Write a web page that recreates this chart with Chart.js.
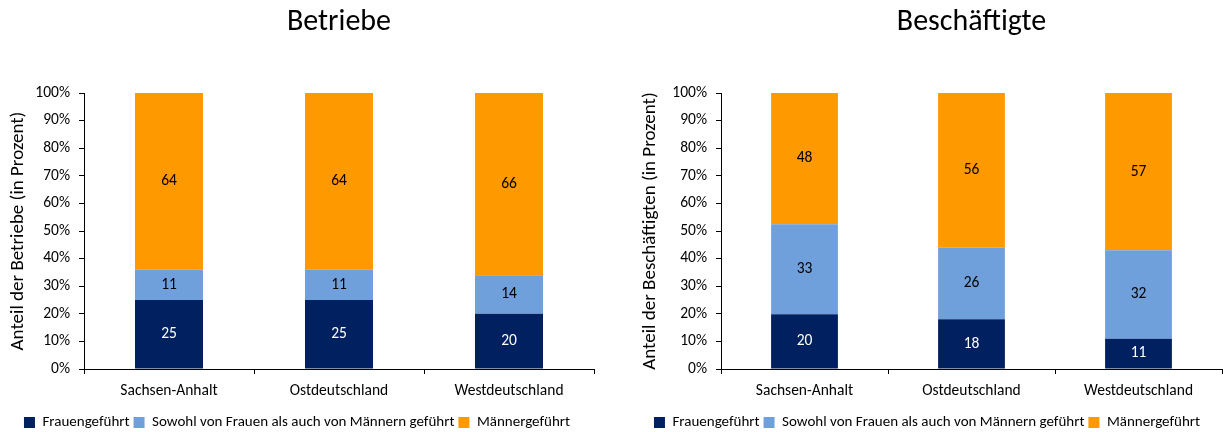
<!DOCTYPE html>
<html>
<head>
<meta charset="utf-8">
<script src="https://cdn.jsdelivr.net/npm/chart.js@4.4.1/dist/chart.umd.min.js"></script>
<style>
  body { margin: 0; background: #fff; }
  .box { position: absolute; top: 0; height: 432px; }
  #left { left: 0; width: 610px; }
  #right { left: 612px; width: 611px; }
</style>
</head>
<body>
<div class="box" id="left"><canvas id="betriebeChart"></canvas></div>
<div class="box" id="right"><canvas id="beschChart"></canvas></div>
<script>
const regions = ['Sachsen-Anhalt', 'Ostdeutschland', 'Westdeutschland'];
const seriesNames = ['Frauengeführt', 'Sowohl von Frauen als auch von Männern geführt', 'Männergeführt'];

// Betriebe (Anteile in Prozent)
const betriebeFrauen = [25, 25, 20];
const betriebeBeide = [11, 11, 14];
const betriebeMaenner = [64, 64, 66];

// Beschäftigte (Anteile in Prozent)
const beschFrauen = [20, 18, 11];
const beschBeide = [33, 26, 32];
const beschMaenner = [48, 56, 57];

const yTicks = [0, 10, 20, 30, 40, 50, 60, 70, 80, 90, 100];

const colors = ['#002060', '#6FA0DC', '#FF9900'];
const labelColors = ['#ffffff', '#000000', '#000000'];
const FONT = 'Carlito, Calibri, Lato, sans-serif';

// 100%-gestapelt: jede Säule auf 100 normieren, Beschriftung zeigt Originalwert
function normalize(series) {
    return series.map(s => s.map((v, i) => {
        const total = series.reduce((sum, arr) => sum + arr[i], 0);
        return v / total * 100;
    }));
}

const barLabels = {
    id: 'barLabels',
    afterDatasetsDraw(chart) {
        const ctx = chart.ctx;
        ctx.save();
        ctx.font = '15.5px ' + FONT;
        ctx.textAlign = 'center';
        ctx.textBaseline = 'middle';
        chart.data.datasets.forEach((ds, di) => {
            const meta = chart.getDatasetMeta(di);
            meta.data.forEach((bar, i) => {
                const top = Math.max(bar.y, chart.chartArea.top);
                ctx.fillStyle = labelColors[di];
                ctx.fillText(ds.raw[i], bar.x, (top + bar.base) / 2);
            });
        });
        ctx.restore();
    }
};

function makeChart(id, title, yTitle, series, padLeft, yWidth, padRight) {
    const norm = normalize(series);
    const ctx = document.getElementById(id).getContext('2d');
    return new Chart(ctx, {
        type: 'bar',
        data: {
            labels: regions,
            datasets: seriesNames.map((name, i) => ({
                label: name,
                data: norm[i],
                raw: series[i],
                backgroundColor: colors[i],
                borderWidth: 0,
                categoryPercentage: 1,
                barPercentage: 0.4
            }))
        },
        options: {
            responsive: true,
            maintainAspectRatio: false,
            animation: false,
            layout: { padding: { left: padLeft, right: padRight, top: 0, bottom: -8 } },
            plugins: {
                title: {
                    display: true,
                    text: title,
                    fullSize: false,
                    color: '#000',
                    font: { family: FONT, size: 30, weight: 'normal', lineHeight: 1.2 },
                    padding: { top: 4, bottom: 53 }
                },
                legend: {
                    position: 'bottom',
                    labels: {
                        color: '#000',
                        font: { family: FONT, size: 15 },
                        boxWidth: 11,
                        boxHeight: 11,
                        padding: 4
                    }
                },
                tooltip: { enabled: false }
            },
            scales: {
                x: {
                    stacked: true,
                    border: { color: '#000', width: 1 },
                    grid: { drawOnChartArea: false, color: '#000', tickLength: 5 },
                    ticks: { color: '#000', font: { family: FONT, size: 15.5 }, padding: 8 },
                    afterFit: s => { s.height = 42; }
                },
                y: {
                    stacked: true,
                    min: 0,
                    max: 100,
                    afterBuildTicks: s => { s.ticks = yTicks.map(v => ({ value: v })); },
                    border: { color: '#000', width: 1 },
                    grid: { drawOnChartArea: false, color: '#000', tickLength: 5 },
                    ticks: {
                        color: '#000',
                        font: { family: FONT, size: 15.5 },
                        padding: 9,
                        callback: v => v + '%'
                    },
                    title: {
                        display: true,
                        text: yTitle,
                        color: '#000',
                        font: { family: FONT, size: 19 },
                        padding: { top: 7, bottom: 4 }
                    },
                    afterFit: s => { s.width = yWidth; }
                }
            }
        },
        plugins: [barLabels]
    });
}

makeChart('betriebeChart', 'Betriebe', 'Anteil der Betriebe (in Prozent)',
    [betriebeFrauen, betriebeBeide, betriebeMaenner], 0, 84, 16);
makeChart('beschChart', 'Beschäftigte', 'Anteil der Beschäftigten (in Prozent)',
    [beschFrauen, beschBeide, beschMaenner], 20, 89, 1);
</script>
</body>
</html>
